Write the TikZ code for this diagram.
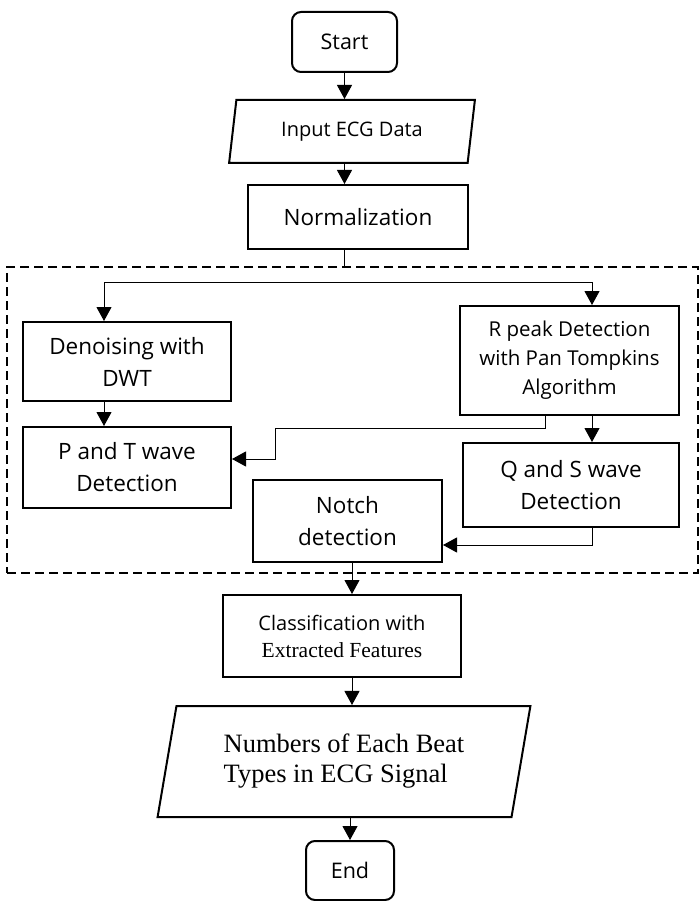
\documentclass[tikz,border=0pt]{standalone}
\usepackage{fontspec}
\setmainfont{Open Sans}
\newfontfamily\serifface{Liberation Serif}
\usetikzlibrary{arrows.meta, shapes.geometric}

\begin{document}
\begin{tikzpicture}[
		x = 1pt, y = -1pt, % pixel-like units, y pointing down
		> = {Triangle[length=14pt, width=15pt]}, % arrow head style
		line width = 1pt, % connector style
		font = \fontsize{22.5}{32}\selectfont
		]
		
		\tikzstyle{block}=[
		draw = black,
		line width = 2pt,
		rectangle,
		align = center,
		inner sep = 0pt
		]
		\tikzstyle{terminal}=[block, rounded corners = 9pt, font = \fontsize{21.5}{28}\selectfont]
		\tikzstyle{io}=[block, trapezium, trapezium stretches = true]
		
		\useasboundingbox (0,0) rectangle (699,901);
		
		\node[draw, line width = 2pt, dash pattern = on 9pt off 5pt, minimum width = 691pt, minimum height = 306pt] (frame) at (352.5,420) {};
		
		\node[terminal, minimum width = 105pt, minimum height = 60pt] (start) at (344.5,42) {Start};
		\node[io, trapezium left angle = 77, trapezium right angle = 103, minimum width = 246pt, minimum height = 63pt, font = \fontsize{20}{26}\selectfont] (input) at (352,131.5) {Input ECG Data};
		\node[block, minimum width = 220pt, minimum height = 64pt] (norm) at (358,217) {Normalization};
		
		\node[block, minimum width = 208pt, minimum height = 79pt] (denoise) at (127,361.5) {Denoising with\\DWT};
		\node[block, minimum width = 208pt, minimum height = 81pt] (pt_wave) at (127,467.5) {P and T wave\\Detection};
		\node[block, minimum width = 219pt, minimum height = 109pt, font = \fontsize{20.5}{29}\selectfont] (rpeak) at (569.5,360.5) {R peak Detection\\with Pan Tompkins\\Algorithm};
		\node[block, minimum width = 216pt, minimum height = 84pt] (qs_wave) at (571,485) {Q and S wave\\Detection};
		\node[block, minimum width = 189pt, minimum height = 82pt] (notch) at (347.5,521) {Notch\\detection};
		
		\node[block, minimum width = 238pt, minimum height = 82pt, font = \fontsize{20}{27}\selectfont] (classify) at (342,636) {Classification with\\{\serifface\fontsize{21.5}{27}\selectfont Extracted Features}};
		\node[io, trapezium left angle = 76, trapezium right angle = 104, minimum width = 374pt, minimum height = 111pt, align = left, font = \serifface\fontsize{26.5}{30}\selectfont] (counts) at (344,761.5) {Numbers of Each Beat\\Types in ECG Signal};
		\node[terminal, minimum width = 88pt, minimum height = 59pt] (end) at (350,870.5) {End};
		
		% split points and bends
		\coordinate (fork_l) at (104,282);
		\coordinate (fork_r) at (592,282);
		\coordinate (rp_tap) at (545,428);
		\coordinate (pt_bend) at (275,428);
		\coordinate (qs_tap) at (592,545);
		\coordinate (col) at (352,700);
		
		\draw[->] (start) -- (start |- input.north);
		\draw[->] (start |- input.south) -- (start |- norm.north);
		\draw (start |- norm.south) -- (start |- frame.north);
		
		\draw[<->] (denoise.north -| fork_l) -- (fork_l) -- (fork_r) -- (rpeak.north -| fork_r);
		\draw[->] (denoise.south -| fork_l) -- (pt_wave.north -| fork_l);
		\draw[->] (rpeak.south -| rp_tap) -- (rp_tap) -- (pt_bend) |- ([yshift=8.5pt]pt_wave.east);
		\draw[->] (rpeak.south -| fork_r) -- (qs_wave.north -| fork_r);
		\draw[->] (qs_wave.south -| qs_tap) -- (qs_tap) -- (notch.east |- qs_tap);
		
		\draw[->] (notch.south -| col) -- (classify.north -| col);
		\draw[->] (classify.south -| col) -- (counts.north -| col);
		\draw[->] (counts.south -| end) -- (end.north -| end);
		\end{tikzpicture}
\end{document}
